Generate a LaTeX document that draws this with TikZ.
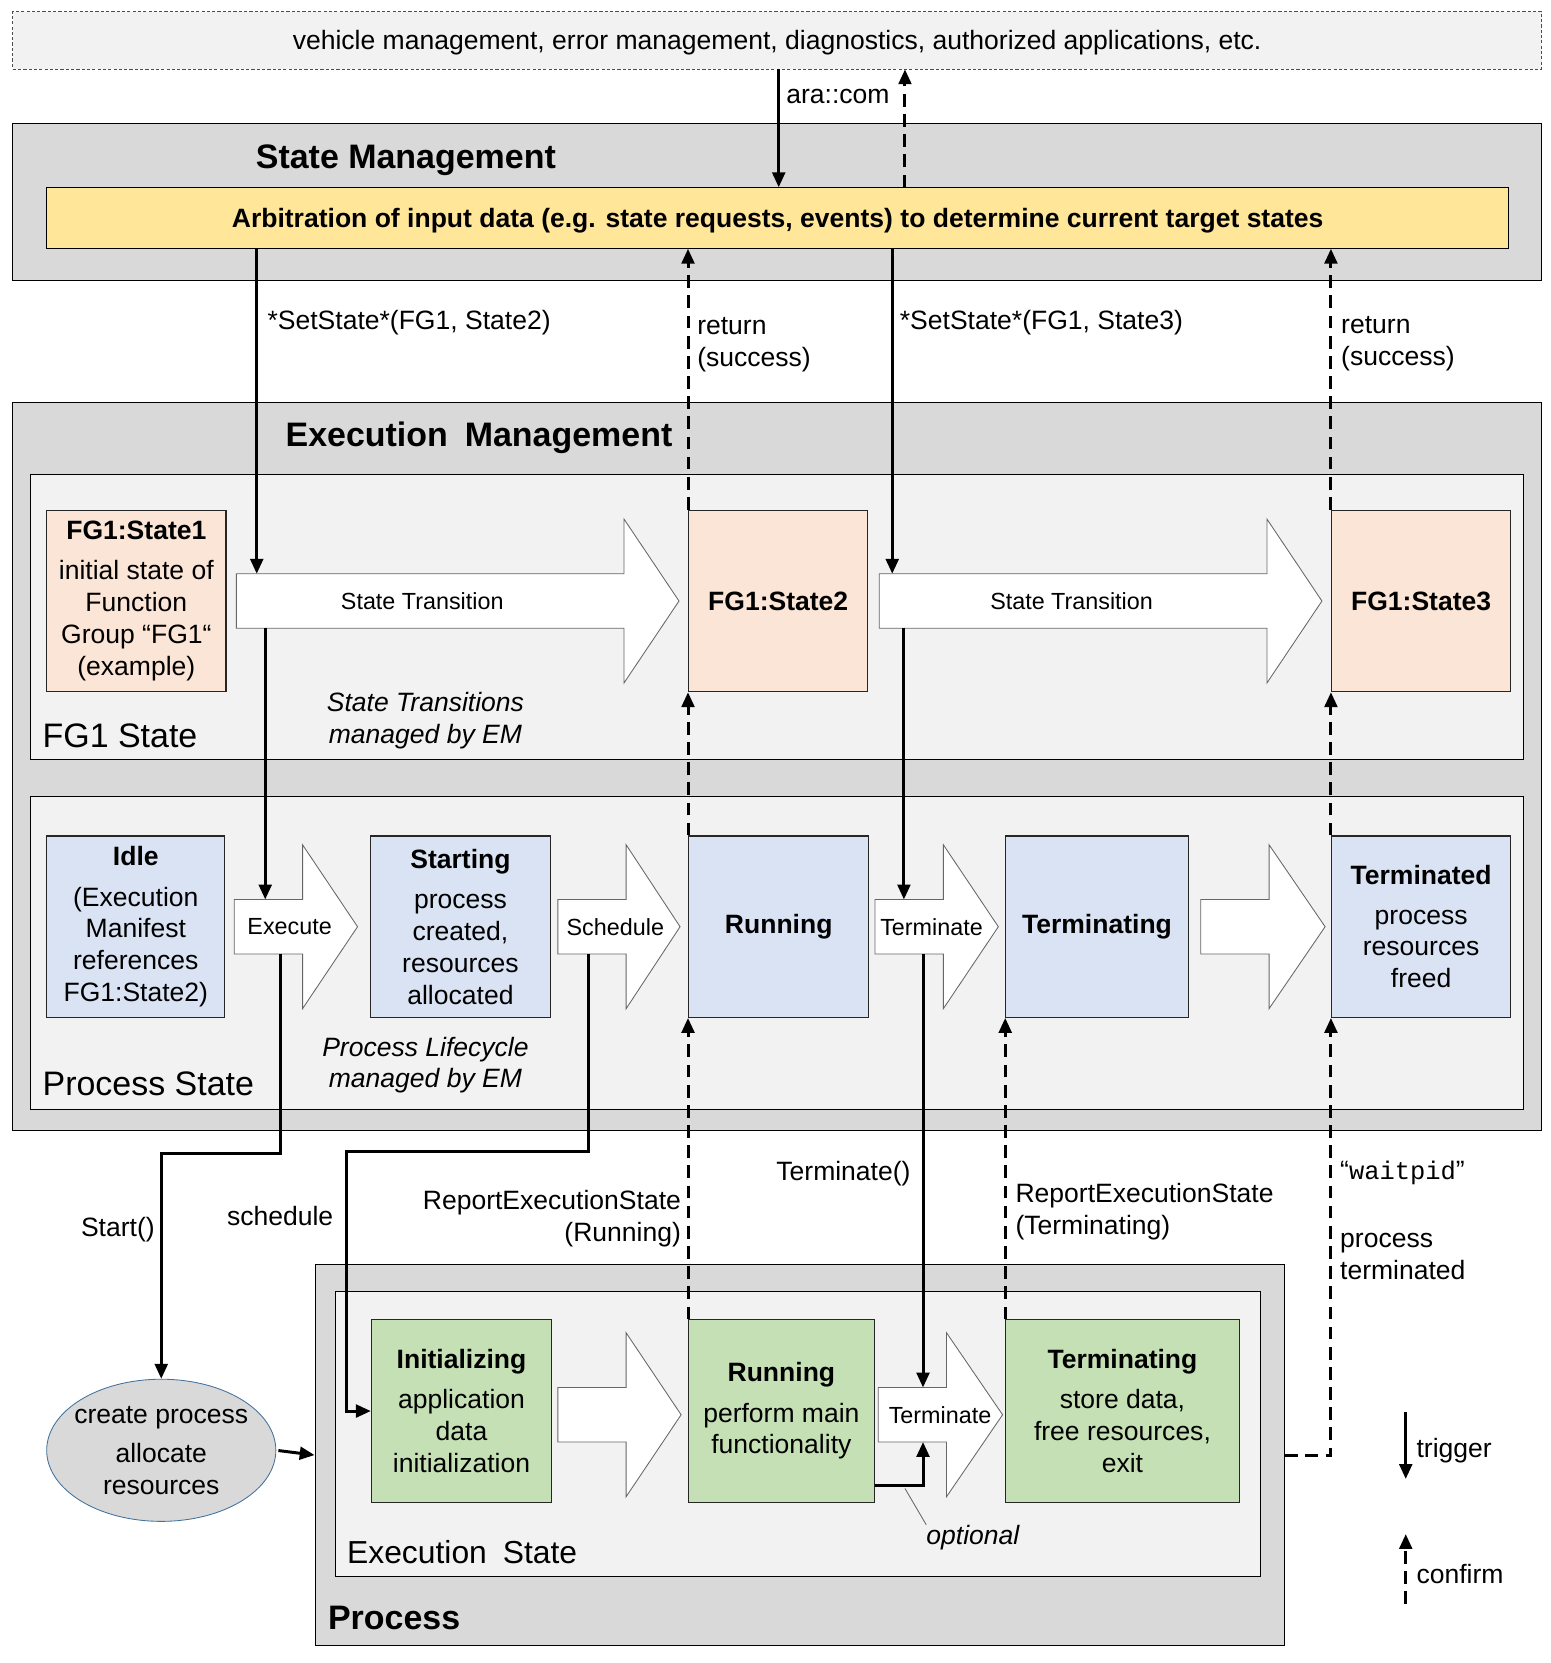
\documentclass[tikz,border=0pt]{standalone}
\usepackage{fontspec}
\setmainfont{Liberation Sans}
\setmonofont{Liberation Mono}
\usetikzlibrary{arrows.meta, shapes.geometric, positioning, calc}
\definecolor{sand}{HTML}{FFE699}
\definecolor{peach}{HTML}{FBE5D6}
\definecolor{skyblue}{HTML}{DAE3F3}
\definecolor{leaf}{HTML}{C5E0B4}
\definecolor{edgeblue}{HTML}{41719C}
\newcommand{\txtfont}{\fontsize{25}{30}\selectfont}
\newcommand{\lblfont}{\fontsize{22}{26}\selectfont}
\newcommand{\hdfont}{\fontsize{32}{38}\selectfont}
\tikzset{outerbox/.style = {
  % Rectangle:
  rectangle, draw=black, line width=1pt,
  fill=black!15, inner sep=0pt
  }}
\tikzset{innerbox/.style = {
  % Rectangle:
  outerbox,
  fill=black!5
  }}
\tikzset{statebox/.style = {
  % Rectangle:
  rectangle, draw=black!85, line width=1pt,
  minimum width=169pt, minimum height=171pt,
  inner sep=0pt,
  % Text:
  align=center, font=\txtfont
  }}
\tikzset{fgstate/.style = {statebox, fill=peach}}
\tikzset{psstate/.style = {statebox, fill=skyblue}}
\tikzset{esstate/.style = {statebox, fill=leaf}}
\tikzset{shaft/.style = {rectangle, inner sep=0pt, minimum height=51pt}}
\tikzset{blockarrow/.style = {
  draw=black!60, fill=white,
  line width=0.8pt, line join=miter
  }}
\tikzset{trig/.style = {
  -{Triangle[length=14pt, width=12pt]},
  line width=2.8pt,
  draw=black
  }}
\tikzset{conf/.style = {trig, dash pattern=on 12pt off 7pt}}
\tikzset{lbl/.style = {inner sep=0pt, font=\txtfont, align=left}}
\tikzset{note/.style = {lbl, yshift=-3pt}}
\tikzset{heading/.style = {note, anchor=west, font=\hdfont}}
\tikzset{pointer/.style = {draw=black!60, line width=0.8pt}}
% block arrow: name, left, head start, tip, y
\newcommand{\blkarrow}[5]{%
  \node[shaft, minimum width={#3pt-#2pt}] (#1) at ({(#2+#3)/2},#5) {};
  \draw[blockarrow] (#1.north west) -- (#1.north east)
    -- ([yshift=51.5pt]#1.north east) -- (#4,#5)
    -- ([yshift=-51.5pt]#1.south east) -- (#1.south east)
    -- (#1.south west) -- cycle;
}
\begin{document}
\begin{tikzpicture}[x=1pt, y=-1pt, font=\txtfont]
  \useasboundingbox (0,1) rectangle (1461,1568.5);
  %
  % Specification of frames
  %
  \node (apps) [innerbox, draw=black!70, line width=0.8pt, dash pattern=on 3pt off 2pt,
    minimum width=1441pt, minimum height=54pt, text depth=0pt] at (732.5,39)
    {vehicle management, error management, diagnostics, authorized applications, etc.};
  \node (sm) [outerbox, minimum width=1441pt, minimum height=148pt] at (732.5,191) {};
  \node (arb) [outerbox, fill=sand, minimum width=1378pt, minimum height=57pt,
    text depth=0pt, font=\txtfont\bfseries] at (733,206.5)
    {Arbitration of input data (e.g. state requests, events) to determine current target states};
  \node (em) [outerbox, minimum width=1441pt, minimum height=687pt] at (732.5,723.5) {};
  \node (fg) [innerbox, minimum width=1407pt, minimum height=269pt] at (732.5,582.5) {};
  \node (ps) [innerbox, minimum width=1407pt, minimum height=295pt] at (732.5,899.5) {};
  \node (proc) [outerbox, minimum width=914pt, minimum height=359pt] at (754,1372.5) {};
  \node (es) [innerbox, minimum width=872pt, minimum height=269pt] at (752,1352.5) {};

  \node (sm-t) [heading, font=\hdfont\bfseries] at (241,149) {State Management};
  \node (em-t) [heading, font=\hdfont\bfseries] at (269,411) {Execution\hspace{0.5em}Management};
  \node (fg-t) [heading] at (40,692) {FG1 State};
  \node (ps-t) [heading] at (40,1020) {Process State};
  \node (es-t) [heading, font=\fontsize{30}{36}\selectfont] at (327,1461) {Execution\hspace{0.5em}State};
  \node (proc-t) [heading, font=\hdfont\bfseries] at (309,1523) {Process};
  %
  % Specification of states
  %
  \node (s1) [fgstate] at (128.5,567.5) {\textbf{FG1:State1}\\[8pt]initial state of\\Function\\Group “FG1“\\(example)};
  \node (s2) [fgstate] at (733.5,567.5) {\textbf{FG1:State2}};
  \node (s3) [fgstate] at (1339.5,567.5) {\textbf{FG1:State3}};

  \node (idle) [psstate, minimum width=168pt] at (128,874.5) {\textbf{Idle}\\[8pt](Execution\\Manifest\\references\\FG1:State2)};
  \node (start) [psstate, minimum width=170pt] at (434,874.5) {\textbf{Starting}\\[8pt]process\\created,\\resources\\allocated};
  \node (run) [psstate, minimum width=170pt] at (734,874.5) {\textbf{Running}};
  \node (term) [psstate, minimum width=172pt] at (1034,874.5) {\textbf{Terminating}};
  \node (termd) [psstate] at (1339.5,874.5) {\textbf{Terminated}\\[7pt]process\\resources\\freed};

  \node (init) [esstate, minimum width=170pt, minimum height=172pt] at (435,1331) {\textbf{Initializing}\\[8pt]application\\data\\initialization};
  \node (erun) [esstate, minimum width=175pt, minimum height=172pt] at (736.5,1331) {\textbf{Running}\\[8pt]perform main\\functionality};
  \node (eterm) [esstate, minimum width=220pt, minimum height=172pt] at (1058,1331) {\textbf{Terminating}\\[8pt]store data,\\free resources,\\exit};

  \node (cp) [ellipse, draw=edgeblue, line width=0.8pt, fill=black!15, align=center,
    minimum width=216pt, minimum height=134pt, inner xsep=-6pt, inner ysep=2pt] at (152,1368)
    {create process\\[7pt]allocate\\resources};
  %
  % Block arrows
  %
  \blkarrow{tr1}{223}{588}{640}{567.5}
  \blkarrow{tr2}{829}{1194}{1246}{567.5}
  \blkarrow{ex}{221}{285}{337}{874.5}
  \blkarrow{sch}{526}{590}{641}{874.5}
  \blkarrow{trm}{825}{889}{941}{874.5}
  \blkarrow{nx}{1132}{1196}{1249}{874.5}
  \blkarrow{ea}{526}{590}{642}{1334.5}
  \blkarrow{etrm}{828}{892}{945}{1334.5}

  \node (tr1-t) [lbl, font=\lblfont] at (398,567.5) {State Transition};
  \node (tr2-t) [lbl, font=\lblfont] at (1010,567.5) {State Transition};
  \node (ex-t) [lbl, font=\lblfont] at (273,874.5) {Execute};
  \node (sch-t) [lbl, font=\lblfont] at (580,874.5) {Schedule};
  \node (trm-t) [lbl, font=\lblfont] at (878,874.5) {Terminate};
  \node (etrm-t) [lbl, font=\lblfont] at (886,1334.5) {Terminate};

  \node (fg-note) [note, align=center, font=\txtfont\itshape] at (401,677) {State Transitions\\managed by EM};
  \node (ps-note) [note, align=center, font=\txtfont\itshape] at (401,1002) {Process Lifecycle\\managed by EM};
  %
  % Specification of lines
  %
  \coordinate (laneCom) at (734,0);
  \coordinate (laneAck) at (853,0);
  \coordinate (laneA) at (242,0);
  \coordinate (laneB) at (250,0);
  \coordinate (laneC) at (841,0);
  \coordinate (laneD) at (852,0);
  \coordinate (laneE) at (264,0);
  \coordinate (laneF) at (555,0);
  \coordinate (laneG) at (870,0);

  \draw [trig] (apps.south -| laneCom) -- (arb.north -| laneCom);
  \draw [conf] (arb.north -| laneAck) -- (apps.south -| laneAck);
  \draw [trig] (arb.south -| laneA) -- (tr1.north -| laneA);
  \draw [trig] (tr1.south -| laneB) -- (ex.north -| laneB);
  \draw [trig] (arb.south -| laneC) -- (tr2.north -| laneC);
  \draw [trig] (tr2.south -| laneD) -- (trm.north -| laneD);
  \draw [conf] (s2.north west) -- (arb.south -| s2.west);
  \draw [conf] (s3.north west) -- (arb.south -| s3.west);
  \draw [conf] (run.north west) -- (s2.south west);
  \draw [conf] (termd.north west) -- (s3.south west);

  \draw [trig] (ex.south -| laneE) -- ++(0,188) -| (cp.north);
  \draw [trig] (sch.south -| laneF) -- ++(0,186) -| ([xshift=-23pt]init.west) -- (init.west);
  \draw [conf] (erun.north west) -- (run.south west);
  \draw [trig] (trm.south -| laneG) -- (etrm.north -| laneG);
  \draw [conf] (eterm.north west) -- (term.south west);
  \draw [conf] (proc.east) -| (termd.south west);
  \draw [trig, shorten <=2pt] (cp.east) -- (proc.west);
  \draw [trig] ([yshift=-70pt]erun.east) -| (etrm.south -| laneG);

  \node (com-t) [note, anchor=west] at (741,89) {ara::com};
  \node (set1-t) [note, anchor=west] at (252,302) {*SetState*(FG1, State2)};
  \node (ret1-t) [note, anchor=west] at (657,323) {return\\(success)};
  \node (set2-t) [note, anchor=west] at (848,302) {*SetState*(FG1, State3)};
  \node (ret2-t) [note, anchor=west] at (1264,322) {return\\(success)};
  \node (start-t) [note, anchor=east] at (146,1157) {Start()};
  \node (sched-t) [note] at (264,1144) {schedule};
  \node (rep1-t) [note, anchor=east, align=right] at (642,1147) {ReportExecutionState\\(Running)};
  \node (kill-t) [note] at (795,1104) {Terminate()};
  \node (rep2-t) [note, anchor=west] at (957,1140) {ReportExecutionState\\(Terminating)};
  \node (wait-t) [note, anchor=west] at (1263,1104) {“{\fontsize{24}{28}\selectfont\ttfamily waitpid}”};
  \node (done-t) [note, anchor=west] at (1263,1182) {process\\terminated};

  \node (opt-t) [note, font=\txtfont\itshape] at (917,1447) {optional};
  \coordinate (opt-a) at (853,1404);
  \draw [pointer] (opt-a) -- (opt-t.north west);
  %
  % Legend
  %
  \coordinate (lg-trig) at (1325,1332);
  \draw [trig] (lg-trig) -- ++(0,63);
  \node (lg-trig-t) [note, anchor=west] at (1335,1365) {trigger};
  \coordinate (lg-conf) at (1325,1513);
  \draw [conf] (lg-conf) -- ++(0,-66);
  \node (lg-conf-t) [note, anchor=west] at (1335,1482) {confirm};
\end{tikzpicture}
\end{document}
